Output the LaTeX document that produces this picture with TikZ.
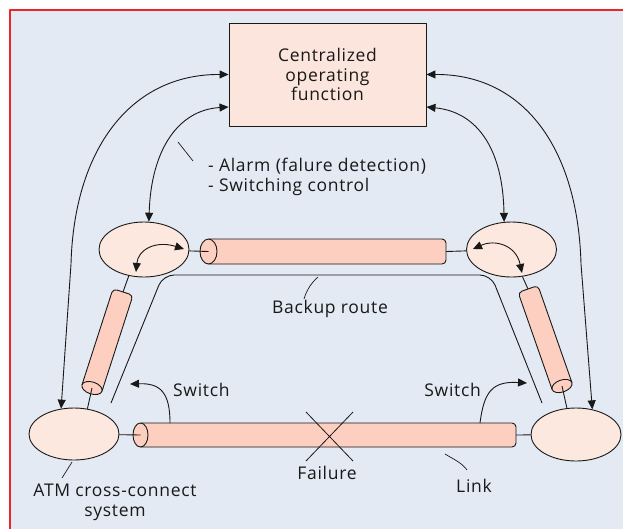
\documentclass[tikz,border=0pt]{standalone}
\usepackage{fontspec}
\setmainfont{Open Sans}[LetterSpace=4]
\usetikzlibrary{arrows.meta,shapes.geometric,calc}

\definecolor{bgblue}{RGB}{227,234,243}
\definecolor{framered}{RGB}{234,38,44}
\definecolor{boxfill}{RGB}{252,229,220}
\definecolor{ellfill}{RGB}{253,232,223}
\definecolor{tubefill}{RGB}{252,207,192}
\definecolor{ink}{RGB}{25,25,25}

% cable drawn as a cylinder: #1 centre of the visible end face, #2 direction,
% #3 length, #4 half width, #5 horizontal radius of the end face
\newcommand\drawtube[5]{%
  \begin{scope}[shift={#1}, rotate=#2]
    \filldraw[tube] (0,-#4) -- (#3-4,-#4)
      arc[start angle=-90, end angle=0, radius=4] -- (#3,#4-4)
      arc[start angle=0, end angle=90, radius=4] -- (0,#4)
      arc[start angle=90, end angle=270, x radius=#5, y radius=#4] -- cycle;
    \draw[line] (0,-#4) arc[start angle=-90, end angle=90, x radius=#5, y radius=#4];
  \end{scope}}

\begin{document}
\begin{tikzpicture}[x=1pt, y=-1pt, line join=round,
  every node/.style={font=\fontsize{17.5}{19.5}\selectfont, text=ink, inner sep=0pt},
  line/.style={draw=ink, line width=0.9pt},
  dbl/.style={line, {Triangle[length=9pt,width=8pt]}-{Triangle[length=9pt,width=8pt]}},
  tip/.style={line, -{Triangle[length=9pt,width=8pt]}},
  xc/.style={ellipse, draw=ink, line width=0.9pt, fill=ellfill,
    minimum width=90pt, minimum height=55pt, inner sep=0pt},
  tick/.style={draw=ink, line width=0.7pt},
  tube/.style={draw=ink, line width=0.9pt, fill=tubefill}]

\useasboundingbox (0,0) rectangle (623,528);
\clip (0,0) rectangle (623,528);

% panel
\fill[bgblue] (10,10) rectangle (640,545);
\draw[framered, line width=2pt] (10,545) -- (10,10) -- (640,10);

% operating centre
\node[draw=ink, line width=0.9pt, fill=boxfill, minimum width=197pt,
      minimum height=103pt, align=center] (cof) at (327.5,74.5)
      {Centralized\\operating\\function};

% cross-connect systems
\node[xc] (tl) at (144,249.5) {};
\node[xc] (tr) at (511.5,249.5) {};
\node[xc, minimum height=52pt] (bl) at (74,434) {};
\node[xc, minimum height=53pt] (br) at (576,434.5) {};

% cable end points
\coordinate (tcap) at (208.5,251.5);
\coordinate (tend) at (446,251.5);
\coordinate (bcap) at (140.5,435);
\coordinate (bend) at (516,435);
\coordinate (lcap) at (92,388);
\coordinate (ltop) at (123,292);
\coordinate (rcap) at (562,386);
\coordinate (rtop) at (528,289);

% cables
\drawtube{(tcap)}{0}{237.5}{12.5}{8.5}
\drawtube{(bcap)}{0}{375.5}{12}{7.5}
\drawtube{(lcap)}{72.1}{100.9}{10.5}{6}
\drawtube{(rcap)}{109.3}{102.8}{10.5}{6}

% cable to node connections
\draw[line] (tl) -- (tcap);
\draw[line] (tend) -- (tr);
\draw[line] (bl) -- (bcap);
\draw[line] (bend) -- (br);
\draw[line] (ltop) -- (tl.240);
\draw[line] (lcap) -- (bl.62);
\draw[line] (rtop) -- (tr.292);
\draw[line] (rcap) -- (br.109);

% control links to the operating centre
\draw[dbl] (cof.west) .. controls (130,74) and (74,150) .. (71,264) -- (bl.117);
\draw[dbl] ($(cof.west)+(0,32.5)$) .. controls (178,110) and (151,150) .. (tl.80);
\draw[dbl] (cof.east) .. controls (525,74) and (578,150) .. (581,264) -- (br.57);
\draw[dbl] ($(cof.east)+(0,32.5)$) .. controls (478,112) and (503,150) .. (tr.105);

% switching inside the upper nodes
\draw[dbl] (136,272) .. controls (138,250) and (155,240) .. (184,249);
\draw[dbl] (473,249) .. controls (495,239) and (516,245) .. (522,273);

% backup route
\draw[line, rounded corners=11pt] (111,403) -- (163,275) -- (491,275) -- (542,403);

% switch-over
\draw[tip] (170,423) .. controls (170,392) and (160,383) .. (130,384);
\draw[tip] (480,423) .. controls (484,392) and (492,381) .. (527,383);

% failure mark
\draw[line, line width=0.8pt] (306,412) -- (353,461);
\draw[line, line width=0.8pt] (353,412) -- (306,461);

% label leaders
\draw[tick] (178,142) -- (193,161);
\draw[tick] (318,277) .. controls (310,284) and (306,292) .. (304,299);
\draw[tick] (445,454) .. controls (455,460) and (462,463) .. (467,470);
\draw[tick] (72,462) -- (62,478);

% labels
\node[anchor=west, align=left] (alarm) at (208,177)
  {- Alarm (falure detection)\\- Switching control};
\node (bk) at (330,309) {Backup route};
\node[anchor=west] (swl) at (173,390) {Switch};
\node[anchor=east] (swr) at (481,390) {Switch};
\node (fail) at (327,473) {Failure};
\node (lnk) at (474,486) {Link};
\node[align=center] (atm) at (115,502.5) {ATM cross-connect\\system};
\end{tikzpicture}
\end{document}
